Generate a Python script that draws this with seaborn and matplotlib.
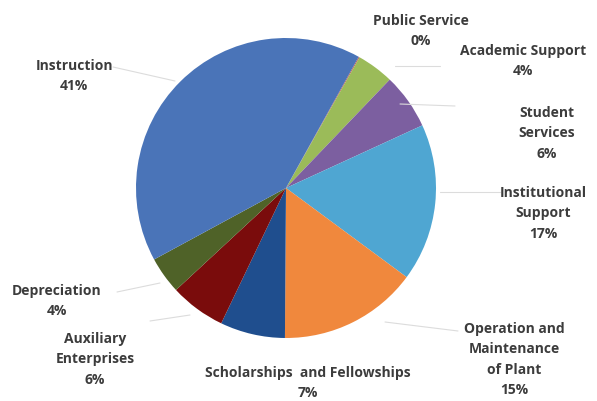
import matplotlib
matplotlib.use("Agg")
import matplotlib.pyplot as plt
import seaborn as sns

categories = ["Public Service", "Academic Support", "Student Services",
              "Institutional Support", "Operation and Maintenance of Plant",
              "Scholarships and Fellowships", "Auxiliary Enterprises",
              "Depreciation", "Instruction"]
values = [0.1, 4, 6, 17, 15, 7, 6, 4, 41]
pct_labels = ["0%", "4%", "6%", "17%", "15%", "7%", "6%", "4%", "41%"]
label_text = ["Public Service", "Academic Support", "Student\nServices",
              "Institutional\nSupport", "Operation and\nMaintenance\nof Plant",
              "Scholarships  and Fellowships", "Auxiliary\nEnterprises",
              "Depreciation", "Instruction"]
colors = ["#C0504D", "#9BBB59", "#7C5FA0", "#4FA6D2", "#F0883D",
          "#1F4E8E", "#7A0C0C", "#4F6228", "#4A74B8"]

sns.set_theme(style="white")
plt.rcParams['font.family'] = ['Open Sans', 'DejaVu Sans']

W, H = 597, 402
fig = plt.figure(figsize=(W / 100, H / 100), dpi=100)
ax = fig.add_axes([0, 0, 1, 1])

cx, cy, r = 286, H - 189, 150
ax.pie(values, colors=sns.color_palette(colors), startangle=61, counterclock=False,
       center=(cx, cy), radius=r, frame=True,
       wedgeprops=dict(linewidth=0))
ax.set_xlim(0, W)
ax.set_ylim(0, H)
ax.set_aspect('equal')
ax.axis('off')

# label positions (image pixel coords: x center, y of first line center)
pos = [(421, 20), (523, 50), (547, 112), (543, 192), (514, 328),
       (308, 372), (95, 338), (57, 290), (74, 65)]
for txt, pct, (x, y) in zip(label_text, pct_labels, pos):
    ax.text(x, H - (y - 6), txt + "\n" + pct, ha='center', va='top',
            fontsize=10, fontweight='bold', color='#3c3c3c',
            linespacing=1.58, transform=ax.transData)

# leader lines
leaders = [((395, 67), (440, 67)), ((455, 107), (400, 105)), ((113, 68), (175, 82)),
           ((458, 332), (385, 323)), ((117, 293), (160, 284)), ((150, 322), (190, 316)),
           ((500, 193), (440, 193))]
for (x0, y0), (x1, y1) in leaders:
    ax.plot([x0, x1], [H - y0, H - y1], color='#dcdcdc', lw=0.8)

fig.savefig("out.png", dpi=100)
